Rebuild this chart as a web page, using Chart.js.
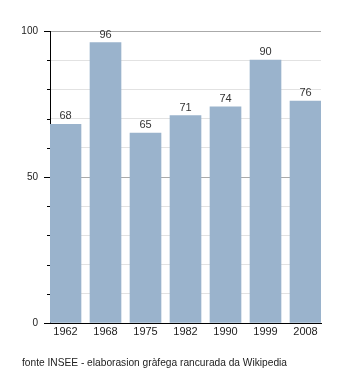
<!DOCTYPE html>
<html>
<head>
<meta charset="utf-8">
<script src="https://cdn.jsdelivr.net/npm/chart.js@4/dist/chart.umd.min.js"></script>
<style>
  body { margin: 0; background: #fff; }
  #wrap { position: relative; width: 350px; height: 373px; }
  #note {
    position: absolute; left: 22px; top: 357px;
    font: 10.2px "Liberation Sans", Arial, sans-serif; color: #222;
    white-space: nowrap;
  }
</style>
</head>
<body>
<div id="wrap">
  <canvas id="chart" width="350" height="373"></canvas>
  <div id="note">fonte INSEE - elaborasion gràfega rancurada da Wikipedia</div>
</div>
<script>
// dati
const years = ['1962', '1968', '1975', '1982', '1990', '1999', '2008']
const values = [68, 96, 65, 71, 74, 90, 76]
const yLabels = [0, 50, 100]

const FONT = '"Liberation Sans", Arial, sans-serif'

// etichette sopra le barre
const valueLabels = {
  id: 'valueLabels',
  afterDatasetsDraw(chart) {
    const ctx = chart.ctx
    const meta = chart.getDatasetMeta(0)
    ctx.save()
    ctx.font = '11px ' + FONT
    ctx.fillStyle = '#333'
    ctx.textAlign = 'center'
    ctx.textBaseline = 'middle'
    meta.data.forEach((bar, i) => {
      ctx.fillText(String(values[i]), bar.x, bar.y - 8)
    })
    ctx.restore()
  }
}

// tacche minori sull'asse y
const minorTicks = {
  id: 'minorTicks',
  afterDraw(chart) {
    const ctx = chart.ctx
    const y = chart.scales.y
    const x0 = chart.chartArea.left
    ctx.save()
    ctx.strokeStyle = '#000'
    ctx.lineWidth = 1
    y.ticks.forEach(t => {
      if (yLabels.includes(t.value)) return
      const py = Math.round(y.getPixelForValue(t.value)) + 0.5
      ctx.beginPath()
      ctx.moveTo(x0 - 3, py)
      ctx.lineTo(x0, py)
      ctx.stroke()
    })
    ctx.restore()
  }
}

new Chart(document.getElementById('chart'), {
  type: 'bar',
  data: {
    datasets: [{
      data: values.map((v, i) => ({ x: i, y: v })),
      backgroundColor: '#9ab3cc',
      borderWidth: 0,
      barThickness: 31
    }]
  },
  options: {
    responsive: false,
    animation: false,
    layout: { padding: { top: 31, right: 29, bottom: 30, left: 0 } },
    plugins: {
      legend: { display: false },
      tooltip: { enabled: false }
    },
    scales: {
      x: {
        type: 'linear',
        offset: false,
        min: -0.3875,
        max: 6.3875,
        grid: { display: false, drawTicks: false },
        border: { display: true, color: '#000', width: 1 },
        ticks: {
          stepSize: 1,
          includeBounds: false,
          autoSkip: false,
          maxRotation: 0,
          padding: 2,
          color: '#222',
          font: { family: FONT, size: 11 },
          callback: v => years[v]
        },
        afterFit: s => { s.height = 20 }
      },
      y: {
        min: 0,
        max: 100,
        grid: {
          color: c => (c.tick.value % 50 === 0 ? '#aaa' : '#e2e2e2'),
          tickColor: c => (yLabels.includes(c.tick.value) ? '#000' : 'rgba(0,0,0,0)'),
          tickLength: 6
        },
        border: { display: true, color: '#000', width: 1 },
        ticks: {
          stepSize: 10,
          padding: 6,
          color: '#222',
          font: { family: FONT, size: 10 },
          callback: v => (yLabels.includes(v) ? String(v) : '')
        },
        afterFit: s => { s.width = 50 }
      }
    }
  },
  plugins: [valueLabels, minorTicks]
})
</script>
</body>
</html>
